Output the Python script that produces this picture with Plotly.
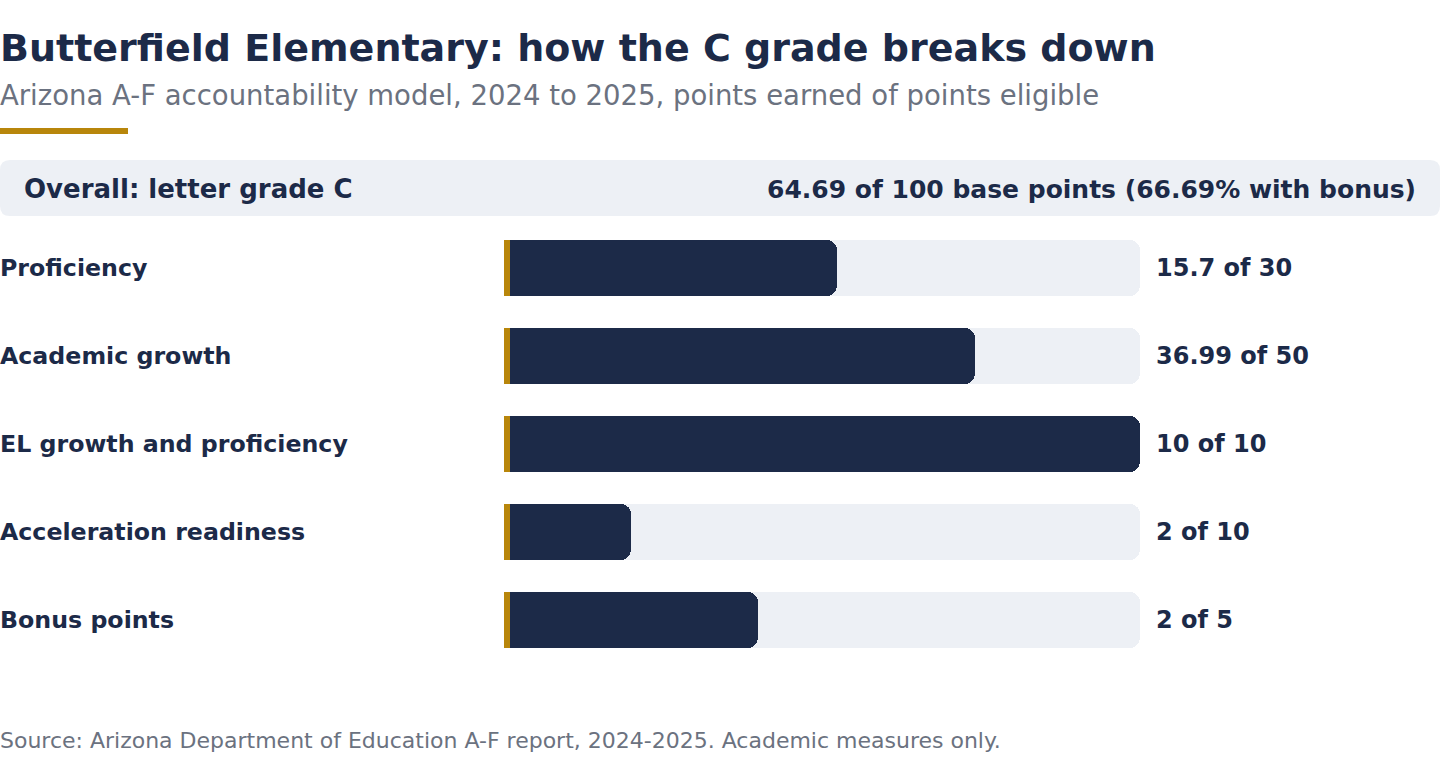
import plotly.graph_objects as go

W, H = 1440, 768

categories = ["Proficiency", "Academic growth", "EL growth and proficiency",
              "Acceleration readiness", "Bonus points"]
earned = [15.7, 36.99, 10, 2, 2]
eligible = [30, 50, 10, 10, 5]
value_labels = ["15.7 of 30", "36.99 of 50", "10 of 10", "2 of 10", "2 of 5"]

title = "Butterfield Elementary: how the C grade breaks down"
subtitle = "Arizona A-F accountability model, 2024 to 2025, points earned of points eligible"
overall_left = "Overall: letter grade C"
overall_right = "64.69 of 100 base points (66.69% with bonus)"
source = "Source: Arizona Department of Education A-F report, 2024-2025. Academic measures only."

NAVY = "#1c2a48"
TRACK = "#edf0f5"
GOLD = "#b8860b"
GREY = "#6b7280"
FONT = "DejaVu Sans"

share = [e / m for e, m in zip(earned, eligible)]


def py(px):
    return 1 - px / H


def px_x(px):
    return px / W


fig = go.Figure()
fig.add_trace(go.Bar(y=categories, x=[1] * len(categories), orientation="h",
                     marker=dict(color=TRACK, line=dict(width=0), cornerradius=10), width=0.636,
                     hoverinfo="skip", showlegend=False, xaxis="x", yaxis="y"))
fig.add_trace(go.Bar(y=categories, x=share, orientation="h",
                     marker=dict(color=NAVY, line=dict(width=0), cornerradius=10), width=0.636,
                     customdata=value_labels, hovertemplate="%{y}: %{customdata}<extra></extra>",
                     showlegend=False, xaxis="x", yaxis="y2"))

shapes = []
annotations = []

# gold accent at bar starts
for i, c in enumerate(categories):
    shapes.append(dict(type="rect", xref="x", yref="y", xsizemode="pixel", xanchor=0,
                       x0=0, x1=6, y0=i - 0.318, y1=i + 0.318,
                       fillcolor=GOLD, line=dict(width=0), layer="above"))

LAB = 23.7
# category and value labels
for c, v in zip(categories, value_labels):
    annotations.append(dict(xref="paper", yref="y", x=0, y=c, xshift=-2, text=f"<b>{c}</b>",
                            xanchor="left", yanchor="middle", showarrow=False,
                            font=dict(family=FONT, size=LAB, color=NAVY)))
    annotations.append(dict(xref="x", yref="y", x=1, y=c, xshift=14, text=f"<b>{v}</b>",
                            xanchor="left", yanchor="middle", showarrow=False,
                            font=dict(family=FONT, size=24, color=NAVY)))

# title block
annotations.append(dict(xref="paper", yref="paper", x=0, y=py(48), xshift=-2, text=f"<b>{title}</b>",
                        xanchor="left", yanchor="middle", showarrow=False,
                        font=dict(family=FONT, size=38, color=NAVY)))
annotations.append(dict(xref="paper", yref="paper", x=0, y=py(95), xshift=-2, text=subtitle,
                        xanchor="left", yanchor="middle", showarrow=False,
                        font=dict(family=FONT, size=27.5, color=GREY)))
shapes.append(dict(type="rect", xref="paper", yref="paper", x0=0, x1=px_x(128),
                   y0=py(134), y1=py(128), fillcolor=GOLD, line=dict(width=0)))

# overall banner (rounded rect)
r = 10
x0, x1, y0, y1 = 0, W, 160, 216
path = (f"M {px_x(x0 + r)},{py(y0)} L {px_x(x1 - r)},{py(y0)} "
        f"Q {px_x(x1)},{py(y0)} {px_x(x1)},{py(y0 + r)} L {px_x(x1)},{py(y1 - r)} "
        f"Q {px_x(x1)},{py(y1)} {px_x(x1 - r)},{py(y1)} L {px_x(x0 + r)},{py(y1)} "
        f"Q {px_x(x0)},{py(y1)} {px_x(x0)},{py(y1 - r)} L {px_x(x0)},{py(y0 + r)} "
        f"Q {px_x(x0)},{py(y0)} {px_x(x0 + r)},{py(y0)} Z")
shapes.append(dict(type="path", xref="paper", yref="paper", path=path,
                   fillcolor=TRACK, line=dict(width=0), layer="below"))
annotations.append(dict(xref="paper", yref="paper", x=px_x(24), y=py(189), xshift=-2,
                        text=f"<b>{overall_left}</b>",
                        xanchor="left", yanchor="middle", showarrow=False,
                        font=dict(family=FONT, size=26, color=NAVY)))
annotations.append(dict(xref="paper", yref="paper", x=px_x(1416), y=py(189), xshift=2,
                        text=f"<b>{overall_right}</b>",
                        xanchor="right", yanchor="middle", showarrow=False,
                        font=dict(family=FONT, size=25, color=NAVY)))

annotations.append(dict(xref="paper", yref="paper", x=0, y=py(740), xshift=-2, text=source,
                        xanchor="left", yanchor="middle", showarrow=False,
                        font=dict(family=FONT, size=22, color=GREY)))

ydom = [py(664), py(224)]
fig.update_layout(
    width=W, height=H, margin=dict(l=0, r=0, t=0, b=0),
    paper_bgcolor="white", plot_bgcolor="white",
    barmode="overlay", bargap=0,
    xaxis=dict(domain=[504 / W, 1140 / W], range=[0, 1], visible=False, fixedrange=True),
    yaxis=dict(domain=ydom, range=[4.5, -0.5], visible=False, fixedrange=True,
               categoryorder="array", categoryarray=categories),
    yaxis2=dict(domain=ydom, range=[4.5, -0.5], visible=False, fixedrange=True, overlaying="y",
                categoryorder="array", categoryarray=categories),
    shapes=shapes, annotations=annotations, font=dict(family=FONT),
)

fig.write_html("out.html")
